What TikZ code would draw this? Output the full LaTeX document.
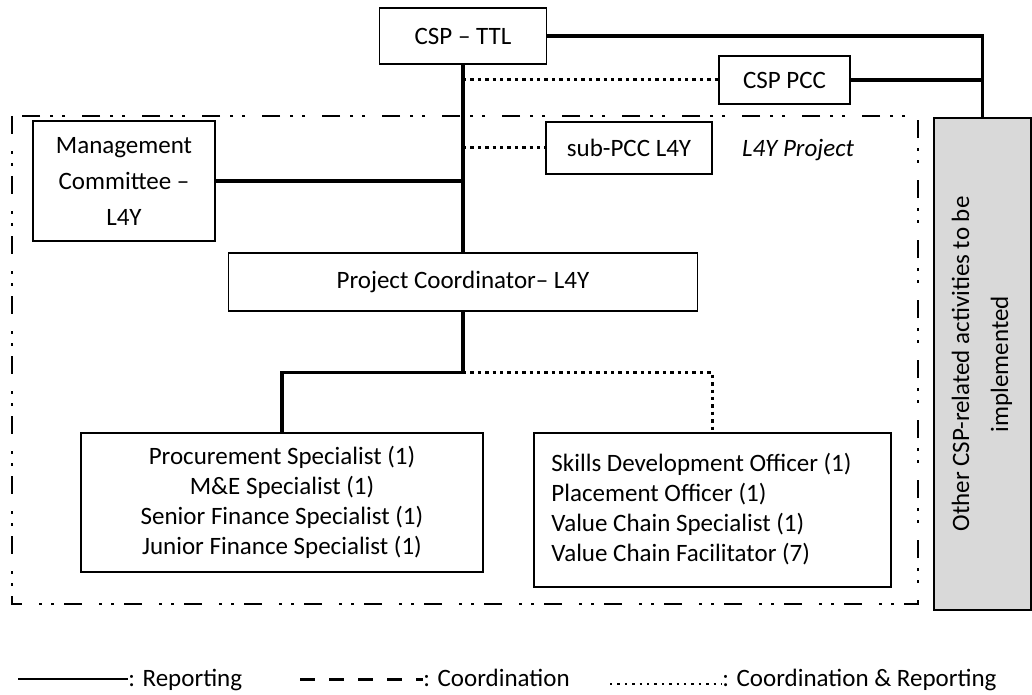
\documentclass[tikz,border=0pt]{standalone}
\usepackage{fontspec}
\setmainfont{Carlito}
\usetikzlibrary{calc}
\tikzstyle{box} = [draw,line width=0.6pt,inner sep=0pt,align=center]
\tikzstyle{report} = [line width=1.6pt]
\tikzstyle{coordrep} = [line width=1.5pt,dash pattern=on 1.7pt off 2pt]
\tikzstyle{coordonly} = [line width=1.5pt,dash pattern=on 7.5pt off 7pt]
\tikzstyle{projline} = [line width=1.2pt,dash pattern=on 9pt off 8.5pt on 1.5pt off 4.5pt on 1.5pt off 5pt]
\usepackage{xcolor}
\definecolor{greybox}{RGB}{217,217,217}

\begin{document}
\begin{tikzpicture}[x=0.5pt,y=-0.5pt,font=\fontsize{12.5}{15}\selectfont]
\useasboundingbox (0,0) rectangle (1032,695);

\node[box,minimum width=83.5pt,minimum height=28pt] (ttl) at (463,36) {CSP -- TTL};
\node[box,minimum width=65.5pt,minimum height=24pt] (pcc) at (784.5,80) {CSP PCC};
\node[box,minimum width=91pt,minimum height=60pt] (mc) at (124,181) {Management\\[3pt]Committee --\\[3pt]L4Y};
\node[box,minimum width=83pt,minimum height=26pt] (subpcc) at (629,148) {sub-PCC L4Y};
\node[font=\fontsize{12.5}{15}\selectfont\itshape] (proj) at (798,150) {L4Y Project};
\node[box,minimum width=234.5pt,minimum height=29pt] (pc) at (463,282) {Project Coordinator-- L4Y};
\node[box,minimum width=201pt,minimum height=69.5pt] (fin) at (282,502.5) {Procurement Specialist (1)\\M\&E Specialist (1)\\Senior Finance Specialist (1)\\Junior Finance Specialist (1)};
\node[box,minimum width=178.5pt,minimum height=77pt] (vc) at (712.5,510) {\begin{tabular}{@{}l@{\hspace{11pt}}}Skills Development Officer (1)\\Placement Officer (1)\\Value Chain Specialist (1)\\Value Chain Facilitator (7)\end{tabular}};
\node[box,fill=greybox,minimum width=48.5pt,minimum height=246pt] (other) at (982.5,364) {\rotatebox{90}{\begin{tabular}{@{}c@{}}Other CSP-related activities to be\\[4.5pt]implemented\end{tabular}}};

% L4Y project frame
\draw[projline] (12,116) rectangle (918,604);

\draw[report] (ttl.east) -| (other.north);
\draw[report] (pcc.east) -- (pcc.east -| other.north);
\draw[report] (ttl.south) -- (pc.north);
\draw[coordrep] (ttl.south |- pcc.west) -- (pcc.west);
\draw[report] (mc.east) -- (mc.east -| ttl.south);
\draw[coordrep] (ttl.south |- subpcc.west) -- (subpcc.west);
\draw[report] (pc.south) -- ++(0,61) coordinate (split) -| (fin.north);
\draw[coordrep] (split) -| (vc.north);

% legend
\node[anchor=base west,inner sep=0pt] (reptext) at (128,686) {: Reporting};
\node[anchor=base west,inner sep=0pt] (coordtext) at (423,686) {: Coordination};
\node[anchor=base west,inner sep=0pt] (bothtext) at (722,686) {: Coordination \& Reporting};
\coordinate (legrep) at (18,679);
\coordinate (legcoord) at (300,679);
\coordinate (legboth) at (610,684);
\draw[line width=1.3pt] (legrep) -- (legrep -| reptext.west);
\draw[coordonly] (legcoord) -- (legcoord -| coordtext.west);
\draw[line width=1.2pt,dash pattern=on 1.2pt off 2.5pt] (legboth) -- (legboth -| bothtext.west);
\end{tikzpicture}
\end{document}
